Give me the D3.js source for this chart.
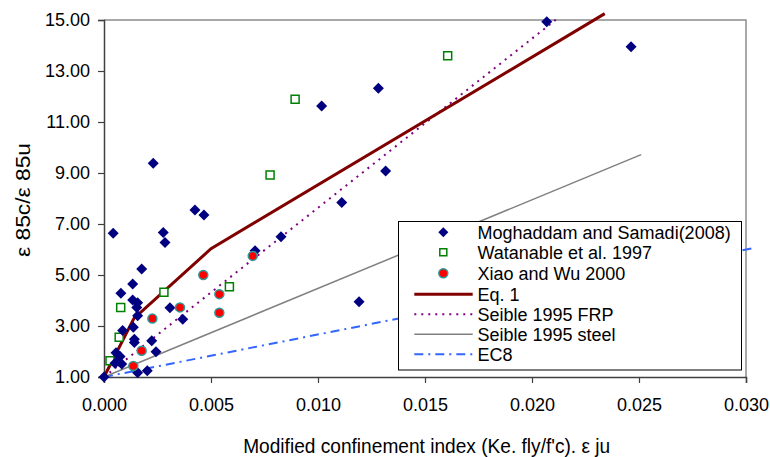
<!DOCTYPE html>
<html>
<head>
<meta charset="utf-8">
<script src="https://cdn.jsdelivr.net/npm/d3@7/dist/d3.min.js"></script>
<style>
  html, body { margin: 0; padding: 0; background: #fff; }
  svg { display: block; font-family: "Liberation Sans", Arial, sans-serif; }
</style>
</head>
<body>
<svg id="chart" width="770" height="457"></svg>
<script>
// ---- data ----
const moghaddam = [
  [0.0000, 1.00], [0.00043, 6.64], [0.00277, 6.67], [0.00285, 6.27], [0.00176, 5.24],
  [0.00134, 4.65], [0.00079, 4.28], [0.00134, 4.02], [0.00157, 3.91], [0.00153, 3.73],
  [0.00157, 3.40], [0.00308, 3.72], [0.00368, 3.26], [0.00087, 2.82], [0.00137, 2.95],
  [0.00142, 2.48], [0.00142, 2.35], [0.00223, 2.42], [0.00243, 1.99], [0.00056, 1.95],
  [0.00075, 1.80], [0.00083, 1.51], [0.00051, 1.54], [0.00157, 1.17], [0.00202, 1.25],
  [0.00230, 9.38], [0.00425, 7.55], [0.00467, 7.35], [0.01111, 7.84], [0.00827, 6.50],
  [0.00706, 5.95], [0.02069, 14.93], [0.02463, 13.95], [0.01282, 12.32], [0.01017, 11.63],
  [0.01316, 9.08], [0.01192, 3.95], [0.00066, 1.62]
];
const watanable = [
  [0.00028, 1.64], [0.00071, 2.56], [0.00078, 3.73], [0.00280, 4.32],
  [0.00586, 4.54], [0.00776, 8.92], [0.00893, 11.89], [0.01606, 13.60]
];
const xiaoWu = [
  [0.00464, 5.00], [0.00695, 5.75], [0.00539, 4.25], [0.00539, 3.52],
  [0.00355, 3.73], [0.00226, 3.29], [0.00176, 2.03], [0.00137, 1.43]
];
const eq1 = [[0, 1.0], [0.0014, 3.3], [0.005, 6.03], [0.0234, 15.25]];
const seibleFRP = [[0, 1.0], [0.02128, 15.12]];
const seibleSteel = [[0, 1.0], [0.0251, 9.72]];
const ec8 = [[0, 1.0], [0.0303, 6.05]];

const xTicks = [0, 0.005, 0.010, 0.015, 0.020, 0.025, 0.030];
const yTicks = [1, 3, 5, 7, 9, 11, 13, 15];
const legendLabels = ["Moghaddam and Samadi(2008)", "Watanable et al. 1997", "Xiao and Wu 2000",
  "Eq. 1", "Seible 1995 FRP", "Seible 1995 steel", "EC8"];
const xTitle = "Modified confinement index (Ke. fly/f'c). \u03b5 ju";
const yTitle = "\u03b5 85c/\u03b5 85u";

// ---- layout ----
const L = 104, R = 746, T = 20, B = 377;
const svg = d3.select("#chart");
const x = d3.scaleLinear().domain([0, 0.03]).range([L, R]);
const y = d3.scaleLinear().domain([1, 15]).range([B, T]);

// plot frame (top/right light gray)
svg.append("path")
  .attr("d", `M${L},${T}H${R}V${B}`)
  .attr("fill", "none").attr("stroke", "#8c8c8c").attr("stroke-width", 1.5);

// axes
const xAxis = svg.append("g").attr("transform", `translate(0,${B})`)
  .call(d3.axisBottom(x).tickValues(xTicks).tickFormat(d3.format(".3f")).tickSize(6).tickPadding(15));
const yAxis = svg.append("g").attr("transform", `translate(${L},0)`)
  .call(d3.axisLeft(y).tickValues(yTicks).tickFormat(d3.format(".2f")).tickSize(6).tickPadding(8));
[xAxis, yAxis].forEach(g => {
  g.select(".domain").attr("stroke", "#404040").attr("stroke-width", 1.5);
  g.selectAll(".tick line").attr("stroke", "#404040").attr("stroke-width", 1.2);
  g.selectAll(".tick text").attr("fill", "#000").style("font-size", "18px")
    .style("font-family", "Liberation Sans, Arial, sans-serif");
});

// axis titles
svg.append("text").attr("x", 426.7).attr("y", 453).attr("text-anchor", "middle")
  .attr("textLength", 367).attr("lengthAdjust", "spacingAndGlyphs")
  .style("font-size", "21px").text(xTitle);
svg.append("text").attr("transform", "translate(30,200) rotate(-90)").attr("text-anchor", "middle")
  .attr("textLength", 114).attr("lengthAdjust", "spacingAndGlyphs")
  .style("font-size", "20px").text(yTitle);

// lines
const line = d3.line().x(d => x(d[0])).y(d => y(d[1]));
const lineStyles = [
  {data: ec8, stroke: "#3366ff", width: 2, dash: "9,5,2,5"},
  {data: seibleSteel, stroke: "#808080", width: 1.5, dash: null},
  {data: seibleFRP, stroke: "#800080", width: 2, dash: "2,5"},
  {data: eq1, stroke: "#800000", width: 3, dash: null}
];
lineStyles.forEach(s => {
  svg.append("path").datum(s.data).attr("d", line)
    .attr("fill", "none").attr("stroke", s.stroke).attr("stroke-width", s.width)
    .attr("stroke-dasharray", s.dash);
});

// markers
const diamond = (cx, cy, r) => `M${cx},${cy - r}L${cx + r},${cy}L${cx},${cy + r}L${cx - r},${cy}Z`;
svg.append("g").selectAll("path").data(watanable).join("path")
  .attr("d", d => { const cx = x(d[0]), cy = y(d[1]); return `M${cx-4},${cy-4}h8v8h-8Z`; })
  .attr("fill", "#fff").attr("stroke", "#008000").attr("stroke-width", 1.5);
svg.append("g").selectAll("path").data(moghaddam).join("path")
  .attr("d", d => diamond(x(d[0]), y(d[1]), 5.5))
  .attr("fill", "#000080");
svg.append("g").selectAll("circle").data(xiaoWu).join("circle")
  .attr("cx", d => x(d[0])).attr("cy", d => y(d[1])).attr("r", 4.5)
  .attr("fill", "#ff0000").attr("stroke", "#2a9a9a").attr("stroke-width", 1.5);

// legend
const lg = svg.append("g");
lg.append("rect").attr("x", 398.5).attr("y", 221.5).attr("width", 343).attr("height", 148.5)
  .attr("fill", "#fff").attr("stroke", "#000").attr("stroke-width", 1);
const rowY = [232.3, 252.3, 273.3, 294.3, 314.3, 334.3, 354.3];
legendLabels.forEach((lab, i) => {
  const cy = rowY[i];
  lg.append("text").attr("x", 477.5).attr("y", cy + 6.5).style("font-size", "18px").text(lab);
});
const mx = 443.3;
lg.append("path").attr("d", diamond(mx, rowY[0], 5)).attr("fill", "#000080");
lg.append("path").attr("d", `M${mx-3.5},${rowY[1]-3.5}h7v7h-7Z`).attr("fill", "#fff")
  .attr("stroke", "#008000").attr("stroke-width", 1.5);
lg.append("circle").attr("cx", mx).attr("cy", rowY[2]).attr("r", 4.5)
  .attr("fill", "#ff0000").attr("stroke", "#2a9a9a").attr("stroke-width", 1.5);
const legLines = [lineStyles[3], lineStyles[2], lineStyles[1], lineStyles[0]];
legLines.forEach((s, i) => {
  lg.append("line").attr("x1", 414.3).attr("x2", 472.7)
    .attr("y1", rowY[3 + i]).attr("y2", rowY[3 + i])
    .attr("stroke", s.stroke).attr("stroke-width", s.width).attr("stroke-dasharray", s.dash);
});
</script>
</body>
</html>
